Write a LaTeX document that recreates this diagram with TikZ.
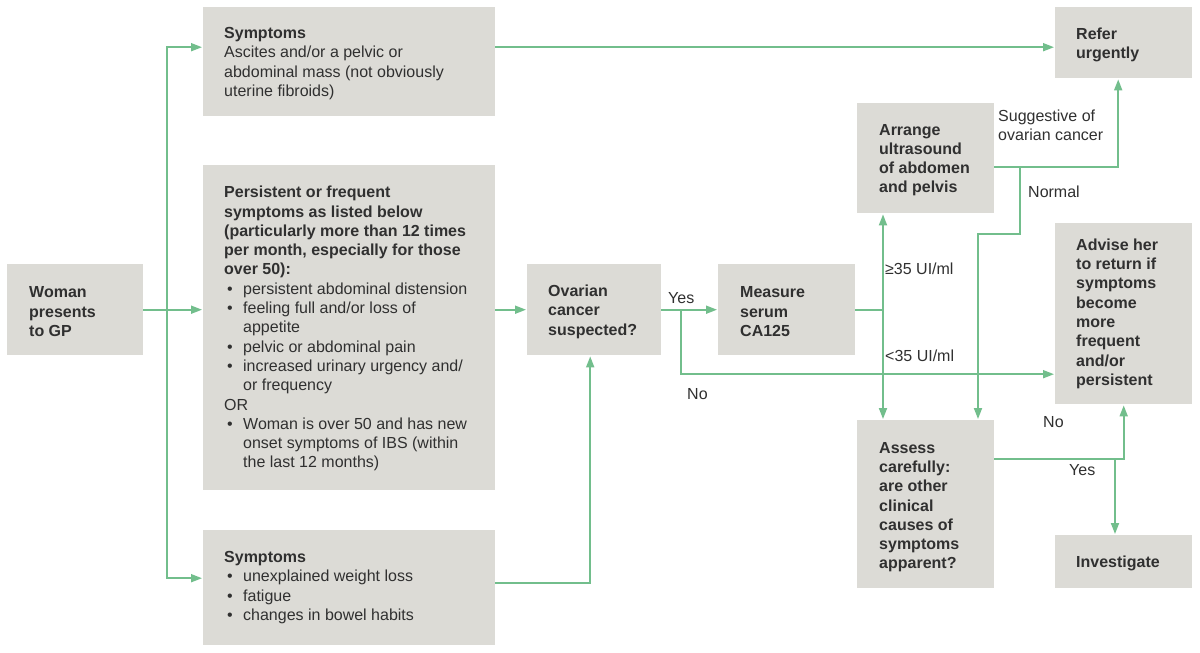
\documentclass[tikz,border=0pt]{standalone}
\usepackage{fontspec}
\setmainfont{Liberation Sans}
\usetikzlibrary{arrows.meta}
\definecolor{boxgray}{HTML}{DCDBD6}
\definecolor{lg}{HTML}{72BE8C}
\definecolor{txtc}{HTML}{303030}
\newcommand{\bul}{\makebox[19pt][l]{\hspace{3pt}•}}
\newcommand{\ind}{\hspace*{19pt}}
\begin{document}
\begin{tikzpicture}[x=1pt,y=-1pt,
 box/.style={fill=boxgray, draw=none, anchor=north west, inner sep=0pt},
 txt/.style={anchor=west, align=left, inner sep=0pt, yshift=-2pt, text=txtc, font=\fontsize{16pt}{19.3pt}\selectfont},
 btxt/.style={txt, font=\fontsize{16pt}{19.3pt}\selectfont\bfseries},
 lbl/.style={anchor=base west, inner sep=0pt, text=txtc, font=\fontsize{16pt}{19.3pt}\selectfont},
 conn/.style={draw=lg, line width=1.8pt},
 arr/.style={conn, -{Triangle[length=11pt,width=8pt]}, shorten >=1pt}]
\fill[white] (0,0) rectangle (1200,653);
\useasboundingbox (0,0) rectangle (1200,653);

% boxes
\node[box, minimum width=136pt, minimum height=91pt] (woman) at (7,264) {};
\node[box, minimum width=292pt, minimum height=109pt] (sym1) at (203,7) {};
\node[box, minimum width=292pt, minimum height=325pt] (pers) at (203,165) {};
\node[box, minimum width=292pt, minimum height=115pt] (sym2) at (203,530) {};
\node[box, minimum width=134pt, minimum height=91pt] (ovar) at (527,264) {};
\node[box, minimum width=137pt, minimum height=91pt] (meas) at (718,264) {};
\node[box, minimum width=137pt, minimum height=110pt] (arrg) at (857,103) {};
\node[box, minimum width=137pt, minimum height=71pt] (refer) at (1055,7) {};
\node[box, minimum width=137pt, minimum height=181pt] (advise) at (1055,223) {};
\node[box, minimum width=137pt, minimum height=168pt] (assess) at (857,420) {};
\node[box, minimum width=137pt, minimum height=53pt] (invest) at (1055,535) {};

% texts
\node[btxt] (woman-t) at ([xshift=22pt]woman.west) {Woman\\presents\\to GP};
\node[txt] (sym1-t) at ([xshift=21pt]sym1.west) {\textbf{Symptoms}\\Ascites and/or a pelvic or\\abdominal mass (not obviously\\uterine fibroids)};
\node[txt] (pers-t) at ([xshift=21pt,yshift=1pt]pers.west) {\textbf{Persistent or frequent}\\
\textbf{symptoms as listed below}\\
\textbf{(particularly more than 12 times}\\
\textbf{per month, especially for those}\\
\textbf{over 50):}\\
\bul persistent abdominal distension\\
\bul feeling full and/or loss of\\
\ind appetite\\
\bul pelvic or abdominal pain\\
\bul increased urinary urgency and/\\
\ind or frequency\\
OR\\
\bul Woman is over 50 and has new\\
\ind onset symptoms of IBS (within\\
\ind the last 12 months)};
\node[txt] (sym2-t) at ([xshift=21pt,yshift=2pt]sym2.west) {\textbf{Symptoms}\\
\bul unexplained weight loss\\
\bul fatigue\\
\bul changes in bowel habits};
\node[btxt] (ovar-t) at ([xshift=21pt]ovar.west) {Ovarian\\cancer\\suspected?};
\node[btxt] (meas-t) at ([xshift=22pt]meas.west) {Measure\\serum\\CA125};
\node[btxt] (arrg-t) at ([xshift=22pt]arrg.west) {Arrange\\ultrasound\\of abdomen\\and pelvis};
\node[btxt] (refer-t) at ([xshift=21pt]refer.west) {Refer\\urgently};
\node[btxt] (advise-t) at ([xshift=21pt,yshift=2pt]advise.west) {Advise her\\to return if\\symptoms\\become\\more\\frequent\\and/or\\persistent};
\node[btxt] (assess-t) at ([xshift=22pt,yshift=-1pt]assess.west) {Assess\\carefully:\\are other\\clinical\\causes of\\symptoms\\apparent?};
\node[btxt] (invest-t) at ([xshift=21pt]invest.west) {Investigate};

% connectors
\coordinate (tj) at (167,309.5);
\draw[arr] (woman.east) -- (woman.east -| pers.west);
\draw[arr] (tj) |- ([yshift=14.5pt]sym1.west);
\draw[arr] (tj) |- ([yshift=9.5pt]sym2.west);
\draw[arr] ([yshift=14.5pt]sym1.east) -- ([yshift=14.5pt]sym1.east -| refer.west);
\draw[arr] (ovar.west -| pers.east) -- (ovar.west);
\draw[arr] ([yshift=4.5pt]sym2.east) -| ([xshift=-4pt]ovar.south);
\draw[arr] (ovar.east) -- (meas.west);
\coordinate (yj) at (681,309.5);
\draw[arr] (yj) |- ([yshift=-60.5pt]advise.west);
\coordinate (mj) at (883,309.5);
\draw[conn] (meas.east) -- (meas.east -| mj);
\draw[arr] (mj) -- (mj |- arrg.south);
\draw[arr] (mj) -- (mj |- assess.north);
\draw[arr] ([yshift=-9pt]arrg.east) -| ([xshift=-5.5pt]refer.south);
\coordinate (nj) at (1020,167);
\coordinate (nk) at (1020,234);
\coordinate (nl) at (978,234);
\draw[arr] (nj) -- (nk) -- (nl) -- (nl |- assess.north);
\draw[arr] ([yshift=45pt]assess.east) -| (advise.south);
\coordinate (aj) at (1115,459);
\draw[arr] (aj) -- (aj |- invest.north);

% labels
\node[lbl] (l-yes1) at (668,303.5) {Yes};
\node[lbl] (l-no1) at (687,399.5) {No};
\node[lbl] (l-ge) at (885,274.5) {≥35 UI/ml};
\node[lbl] (l-lt) at (885,361.5) {<35 UI/ml};
\node[lbl] (l-sug1) at (998,121.5) {Suggestive of};
\node[lbl] (l-sug2) at (998,140.5) {ovarian cancer};
\node[lbl] (l-norm) at (1028,197.5) {Normal};
\node[lbl] (l-no2) at (1043,427.5) {No};
\node[lbl] (l-yes2) at (1069,475.5) {Yes};
\end{tikzpicture}
\end{document}
